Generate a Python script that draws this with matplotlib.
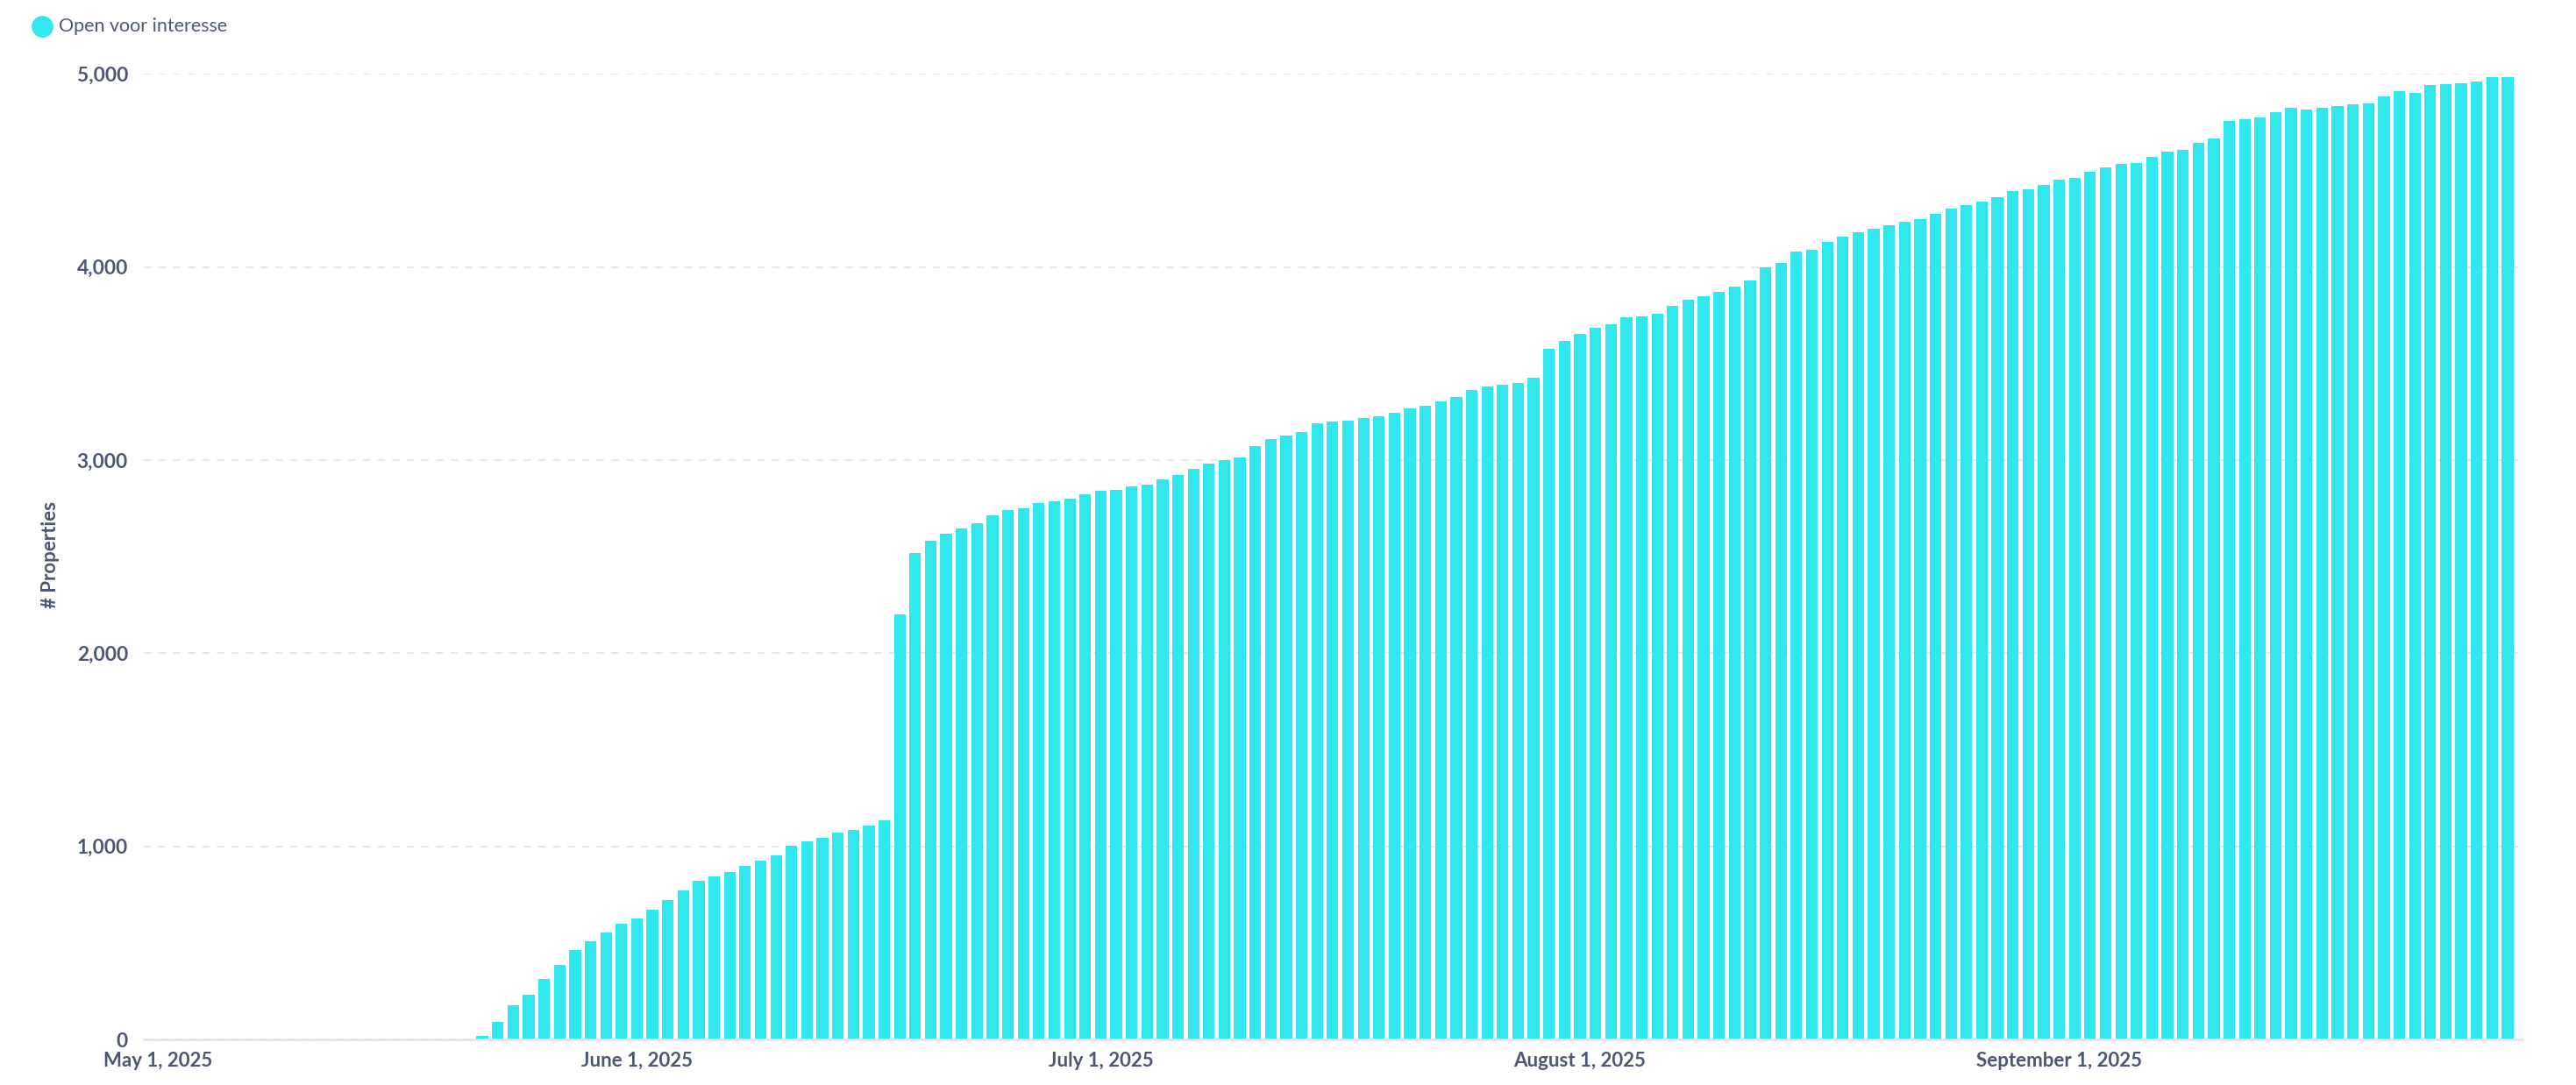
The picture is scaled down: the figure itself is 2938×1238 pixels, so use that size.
"""
Open voor interesse — cumulative number of properties per day, May–Sep 2025.

Usage:
    python plot.py

Output:
    out.png
"""

from __future__ import annotations

import pandas as pd
import matplotlib.pyplot as plt
import matplotlib.dates as mdates
from matplotlib.lines import Line2D
from matplotlib.ticker import FuncFormatter, MultipleLocator


# ---------- Data ----------
START_DATE = "2025-05-01"
END_DATE = "2025-09-30"
SERIES_NAME = "Open voor interesse"
Y_LABEL = "# Properties"

# one value per day, May 1 .. Sep 30
PROPERTIES = [
    0, 0, 0, 0, 0, 0, 0, 0, 0, 0, 0, 0, 0, 0, 0, 0, 0, 0, 0, 0, 0,
    20, 92, 175, 233, 313, 387, 464, 508, 553, 600,
    628, 670, 723, 771, 820, 844, 867, 897, 924, 953,
    1004, 1024, 1044, 1071, 1083, 1108, 1133, 2201, 2520, 2581,
    2617, 2645, 2673, 2712, 2739, 2750, 2775, 2786, 2799, 2824,
    2843, 2846, 2863, 2872, 2901, 2922, 2955, 2982, 2999, 3011,
    3070, 3107, 3126, 3147, 3191, 3200, 3205, 3217, 3225, 3245,
    3268, 3279, 3304, 3326, 3364, 3379, 3391, 3401, 3426, 3578,
    3616, 3654, 3686, 3702, 3739, 3746, 3757, 3799, 3828, 3849,
    3869, 3897, 3931, 4000, 4020, 4078, 4087, 4129, 4159, 4180,
    4197, 4214, 4236, 4247, 4277, 4300, 4318, 4338, 4359, 4391,
    4403, 4426, 4450, 4463, 4493, 4515, 4533, 4540, 4569, 4596,
    4608, 4643, 4664, 4758, 4764, 4772, 4800, 4823, 4815, 4824,
    4832, 4843, 4846, 4885, 4909, 4903, 4940, 4947, 4950, 4959,
    4982, 4983,
]

Y_MAX = 5000
Y_STEP = 1000

# ---------- Theme ----------
BAR_COLOR = "#2ee8ee"
TEXT_COLOR = "#4c5773"
GRID_COLOR = "#e8e8ea"
BASE_COLOR = "#e3e3e5"


def fmt_date(x, _pos):
    d = mdates.num2date(x)
    return f"{d:%B} {d.day}, {d.year}"


def main() -> None:
    plt.rcParams["font.family"] = ["Lato", "DejaVu Sans"]

    dates = pd.date_range(START_DATE, END_DATE, freq="D")

    fig = plt.figure(figsize=(14.69, 6.19), dpi=200)
    ax = fig.add_axes([0.0558, 0.042, 0.9234, 0.890])

    ax.bar(dates, PROPERTIES, width=0.75, color=BAR_COLOR, zorder=2)

    # axes / grid
    ax.set_ylim(0, Y_MAX)
    ax.yaxis.set_major_locator(MultipleLocator(Y_STEP))
    ax.yaxis.set_major_formatter(FuncFormatter(lambda v, _: f"{int(v):,}"))
    ax.grid(axis="y", color=GRID_COLOR, linewidth=0.75,
            linestyle=(0, (4, 4)), zorder=0)
    ax.set_xlim(dates[0] - pd.Timedelta(days=0.9),
                dates[-1] + pd.Timedelta(days=0.96))
    ax.xaxis.set_major_locator(mdates.MonthLocator(bymonthday=1))
    ax.xaxis.set_major_formatter(FuncFormatter(fmt_date))

    for side in ("top", "right", "left"):
        ax.spines[side].set_visible(False)
    ax.spines["bottom"].set_color(BASE_COLOR)
    ax.spines["bottom"].set_linewidth(0.9)
    ax.spines["bottom"].set_zorder(3)

    ax.tick_params(axis="y", length=0, pad=6.5, labelsize=8.2,
                   labelcolor=TEXT_COLOR)
    ax.tick_params(axis="x", length=0, pad=5, labelsize=8,
                   labelcolor=TEXT_COLOR)
    for lbl in ax.get_xticklabels() + ax.get_yticklabels():
        lbl.set_fontweight("bold")

    ax.set_ylabel(Y_LABEL, fontsize=8, fontweight="bold", color=TEXT_COLOR)
    ax.yaxis.set_label_coords(-0.0354, 0.502)

    # legend: dot + label top-left
    fig.add_artist(Line2D([48 / 2938], [1 - 30 / 1238], marker="o",
                          markersize=7.9, color=BAR_COLOR, linestyle="",
                          transform=fig.transFigure))
    fig.text(67 / 2938, 1 - 30 / 1238, SERIES_NAME, fontsize=7.7,
             color=TEXT_COLOR, va="center", ha="left")

    fig.savefig("out.png", dpi=200, facecolor="white")
    plt.close(fig)


if __name__ == "__main__":
    main()
